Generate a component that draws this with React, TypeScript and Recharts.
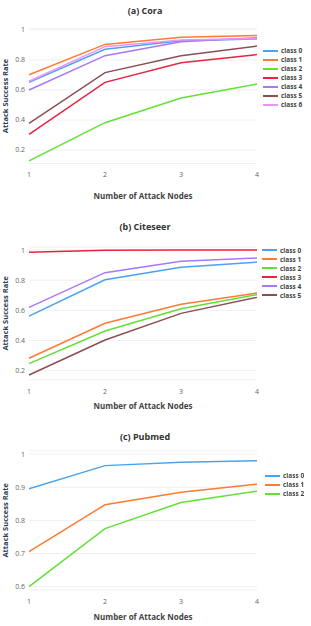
import React from 'react';
import { LineChart, Line, XAxis, YAxis, CartesianGrid, Legend } from 'recharts';

// Number of attack nodes (x axis)
const NODES = [1, 2, 3, 4];

// (a) Cora
const CORA_CLASS0 = [0.651, 0.871, 0.929, 0.94];
const CORA_CLASS1 = [0.702, 0.904, 0.951, 0.964];
const CORA_CLASS2 = [0.127, 0.382, 0.547, 0.64];
const CORA_CLASS3 = [0.304, 0.651, 0.782, 0.836];
const CORA_CLASS4 = [0.6, 0.829, 0.922, 0.949];
const CORA_CLASS5 = [0.378, 0.716, 0.829, 0.893];
const CORA_CLASS6 = [0.658, 0.889, 0.933, 0.944];

// (b) Citeseer
const CITE_CLASS0 = [0.562, 0.803, 0.885, 0.92];
const CITE_CLASS1 = [0.282, 0.514, 0.64, 0.715];
const CITE_CLASS2 = [0.247, 0.463, 0.611, 0.704];
const CITE_CLASS3 = [0.985, 0.998, 1.0, 1.0];
const CITE_CLASS4 = [0.62, 0.85, 0.925, 0.947];
const CITE_CLASS5 = [0.171, 0.403, 0.58, 0.686];

// (c) Pubmed
const PUB_CLASS0 = [0.895, 0.965, 0.975, 0.98];
const PUB_CLASS1 = [0.706, 0.847, 0.885, 0.909];
const PUB_CLASS2 = [0.6, 0.775, 0.854, 0.888];

const CLASS_NAMES = ['class 0', 'class 1', 'class 2', 'class 3', 'class 4', 'class 5', 'class 6'];
const COLORS = ['#4aa3f0', '#ff7a33', '#62e036', '#e8223f', '#a977f7', '#8b4f52', '#f092f5'];

const CORA_TICKS = [0.2, 0.4, 0.6, 0.8, 1];
const CITE_TICKS = [0.2, 0.4, 0.6, 0.8, 1];
const PUB_TICKS = [0.6, 0.7, 0.8, 0.9, 1];

const FONT = '"Open Sans", "Noto Sans", sans-serif';

function buildRows(series: number[][]) {
  return NODES.map((n, i) => {
    const row: Record<string, number> = { nodes: n };
    series.forEach((s, k) => { row[CLASS_NAMES[k]] = s[i]; });
    return row;
  });
}

const makeLegend = (left: number, top: number) => (props: any) => {
  const payload = props.payload || [];
  return (
    <div style={{ position: 'absolute', left, top, width: 48, fontFamily: FONT }}>
      {payload.map((p: any) => (
        <div key={p.value} style={{ display: 'flex', alignItems: 'center', height: 9, whiteSpace: 'nowrap' }}>
          <div style={{ width: 15, height: 2, background: p.color, marginRight: 3, flex: 'none' }} />
          <span style={{ fontSize: 6.5, fontWeight: 700, color: '#444', lineHeight: '9px' }}>{p.value}</span>
        </div>
      ))}
    </div>
  );
};

type PanelProps = {
  title: string;
  series: number[][];
  top: number;
  height: number;
  plotTop: number;
  plotBottom: number;
  domain: [number, number];
  ticks: number[];
  legendLeft: number;
  legendTop: number;
  titleTop: number;
};

function Panel(p: PanelProps) {
  const data = buildRows(p.series);
  const xAxisHeight = p.height - p.plotBottom;
  return (
    <div style={{ position: 'absolute', left: 0, top: p.top, width: 311, height: p.height }}>
      <div style={{ position: 'absolute', left: 0, width: 290, top: p.titleTop - 7, textAlign: 'center', fontFamily: FONT, fontSize: 9, fontWeight: 700, color: '#333' }}>
        {p.title}
      </div>
      <LineChart width={311} height={p.height} data={data}
        margin={{ top: p.plotTop, right: 54, left: 0, bottom: 0 }}>
        <CartesianGrid vertical={false} stroke="#eef0f3" strokeWidth={1} />
        <XAxis dataKey="nodes" type="number" domain={[1, 4]} ticks={NODES} height={xAxisHeight}
          axisLine={false} tickLine={false} tickSize={0} tickMargin={9}
          tick={{ fontSize: 7, fill: '#666', fontFamily: FONT }}
          label={{ value: 'Number of Attack Nodes', position: 'insideBottom', offset: 6, style: { fontSize: 8, fontWeight: 700, fill: '#444', fontFamily: FONT } }} />
        <YAxis type="number" domain={p.domain} ticks={p.ticks} width={29} allowDataOverflow
          axisLine={false} tickLine={false} tickSize={0} tickMargin={4}
          tick={{ fontSize: 7, fill: '#666', fontFamily: FONT }}
          label={{ value: 'Attack Success Rate', angle: -90, position: 'insideLeft', offset: 5, style: { textAnchor: 'middle', fontSize: 7.5, fontWeight: 700, fill: '#2f3b55', fontFamily: FONT } }} />
        <Legend content={makeLegend(p.legendLeft, p.legendTop)} wrapperStyle={{ position: 'absolute', left: 0, top: 0, width: 0, height: 0 }} />
        {p.series.map((_, k) => (
          <Line key={CLASS_NAMES[k]} type="linear" dataKey={CLASS_NAMES[k]} stroke={COLORS[k]}
            strokeWidth={1.5} dot={false} isAnimationActive={false} />
        ))}
      </LineChart>
    </div>
  );
}

export default function App() {
  return (
    <div style={{ position: 'fixed', left: 0, top: 0, width: 311, height: 626, background: '#fff' }}>
      <Panel title="(a)  Cora" top={0} height={205} plotTop={28.5} plotBottom={163.5} titleTop={11}
        series={[CORA_CLASS0, CORA_CLASS1, CORA_CLASS2, CORA_CLASS3, CORA_CLASS4, CORA_CLASS5, CORA_CLASS6]}
        domain={[0.11, 1.01]} ticks={CORA_TICKS} legendLeft={263} legendTop={46} />
      <Panel title="(b) Citeseer" top={205} height={210} plotTop={42} plotBottom={174.7} titleTop={22}
        series={[CITE_CLASS0, CITE_CLASS1, CITE_CLASS2, CITE_CLASS3, CITE_CLASS4, CITE_CLASS5]}
        domain={[0.14, 1.02]} ticks={CITE_TICKS} legendLeft={262} legendTop={40.5} />
      <Panel title="(c) Pubmed" top={415} height={211} plotTop={35.7} plotBottom={175} titleTop={22}
        series={[PUB_CLASS0, PUB_CLASS1, PUB_CLASS2]}
        domain={[0.59, 1.01]} ticks={PUB_TICKS} legendLeft={265} legendTop={56} />
    </div>
  );
}
